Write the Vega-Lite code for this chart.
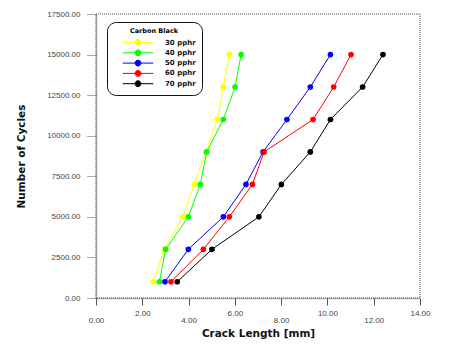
{
  "$schema": "https://vega.github.io/schema/vega-lite/v6.json",
  "width": 324,
  "height": 284,
  "autosize": "none",
  "padding": {"left": 96, "top": 14, "right": 41, "bottom": 59},
  "background": "white",
  "config": {
    "view": {"stroke": "#888", "strokeWidth": 1.5, "strokeDash": [1, 1]},
    "font": "Liberation Sans"
  },
  "data": {
    "values": [
      {"x": 2.48, "y": 1000, "s": "30 pphr"}, {"x": 2.95, "y": 3000, "s": "30 pphr"}, {"x": 3.75, "y": 5000, "s": "30 pphr"}, {"x": 4.25, "y": 7000, "s": "30 pphr"}, {"x": 4.75, "y": 9000, "s": "30 pphr"}, {"x": 5.24, "y": 11000, "s": "30 pphr"}, {"x": 5.50, "y": 13000, "s": "30 pphr"}, {"x": 5.76, "y": 15000, "s": "30 pphr"},
      {"x": 2.74, "y": 1000, "s": "40 pphr"}, {"x": 3.01, "y": 3000, "s": "40 pphr"}, {"x": 3.99, "y": 5000, "s": "40 pphr"}, {"x": 4.51, "y": 7000, "s": "40 pphr"}, {"x": 4.78, "y": 9000, "s": "40 pphr"}, {"x": 5.50, "y": 11000, "s": "40 pphr"}, {"x": 6.01, "y": 13000, "s": "40 pphr"}, {"x": 6.27, "y": 15000, "s": "40 pphr"},
      {"x": 2.98, "y": 1000, "s": "50 pphr"}, {"x": 3.99, "y": 3000, "s": "50 pphr"}, {"x": 5.50, "y": 5000, "s": "50 pphr"}, {"x": 6.48, "y": 7000, "s": "50 pphr"}, {"x": 7.22, "y": 9000, "s": "50 pphr"}, {"x": 8.25, "y": 11000, "s": "50 pphr"}, {"x": 9.26, "y": 13000, "s": "50 pphr"}, {"x": 10.13, "y": 15000, "s": "50 pphr"},
      {"x": 3.24, "y": 1000, "s": "60 pphr"}, {"x": 4.64, "y": 3000, "s": "60 pphr"}, {"x": 5.76, "y": 5000, "s": "60 pphr"}, {"x": 6.76, "y": 7000, "s": "60 pphr"}, {"x": 7.26, "y": 9000, "s": "60 pphr"}, {"x": 9.38, "y": 11000, "s": "60 pphr"}, {"x": 10.27, "y": 13000, "s": "60 pphr"}, {"x": 11.02, "y": 15000, "s": "60 pphr"},
      {"x": 3.51, "y": 1000, "s": "70 pphr"}, {"x": 5.01, "y": 3000, "s": "70 pphr"}, {"x": 7.04, "y": 5000, "s": "70 pphr"}, {"x": 8.01, "y": 7000, "s": "70 pphr"}, {"x": 9.26, "y": 9000, "s": "70 pphr"}, {"x": 10.13, "y": 11000, "s": "70 pphr"}, {"x": 11.52, "y": 13000, "s": "70 pphr"}, {"x": 12.40, "y": 15000, "s": "70 pphr"}
    ]
  },
  "encoding": {
    "x": {
      "field": "x", "type": "quantitative",
      "scale": {"domain": [0, 14], "nice": false},
      "axis": {
        "values": [0, 2, 4, 6, 8, 10, 12, 14],
        "format": ".2f",
        "title": "Crack Length [mm]",
        "titleFont": "DejaVu Sans", "titleFontSize": 10.5, "titleFontWeight": "bold", "titleColor": "#111",
        "titlePadding": 4,
        "labelFontSize": 8, "labelColor": "#444", "labelFlush": false,
        "labelPadding": {"condition": {"test": "datum.value % 4 === 0", "value": 11}, "value": 4},
        "tickSize": 7, "tickColor": "#555", "domainColor": "#666", "domainDash": [1, 1], "domainWidth": 1.5,
        "grid": false
      }
    },
    "y": {
      "field": "y", "type": "quantitative",
      "scale": {"domain": [0, 17500], "nice": false},
      "axis": {
        "values": [0, 2500, 5000, 7500, 10000, 12500, 15000, 17500],
        "format": ".2f",
        "title": "Number of Cycles",
        "titleFont": "DejaVu Sans", "titleFontSize": 10.5, "titleFontWeight": "bold", "titleColor": "#111",
        "titlePadding": 20,
        "labelFontSize": 8, "labelColor": "#444",
        "labelPadding": 7,
        "tickSize": 9, "tickColor": "#555", "tickDash": [1, 1], "domainColor": "#666", "domainDash": [1, 1], "domainWidth": 1.5,
        "grid": false
      }
    },
    "color": {
      "field": "s", "type": "nominal",
      "scale": {"domain": ["30 pphr", "40 pphr", "50 pphr", "60 pphr", "70 pphr"], "range": ["#ffff00", "#00ff00", "#0000ff", "#ff0000", "#000000"]},
      "legend": {
        "title": "Carbon Black",
        "orient": "none", "legendX": 11, "legendY": 8,
        "titleFontSize": 6.5, "titleFontWeight": "bold", "titleAnchor": "middle", "titleFont": "DejaVu Sans", "titlePadding": 3,
        "labelFontSize": 7, "labelFontWeight": "bold", "labelFont": "DejaVu Sans", "labelColor": "#111",
        "symbolType": "M-3.4,0H3.4M0.65,0A0.65,0.65 0 1,1 -0.65,0A0.65,0.65 0 1,1 0.65,0Z",
        "symbolSize": 81, "symbolStrokeWidth": 1, "symbolOffset": 20,
        "rowPadding": 0.3, "labelOffset": 22,
        "strokeColor": "#111", "fillColor": "white", "cornerRadius": 9, "padding": 6
      }
    }
  },
  "layer": [
    {"mark": {"type": "line", "strokeWidth": 1}},
    {"mark": {"type": "point", "filled": true, "opacity": 1, "size": 32, "shape": "circle"}}
  ]
}
